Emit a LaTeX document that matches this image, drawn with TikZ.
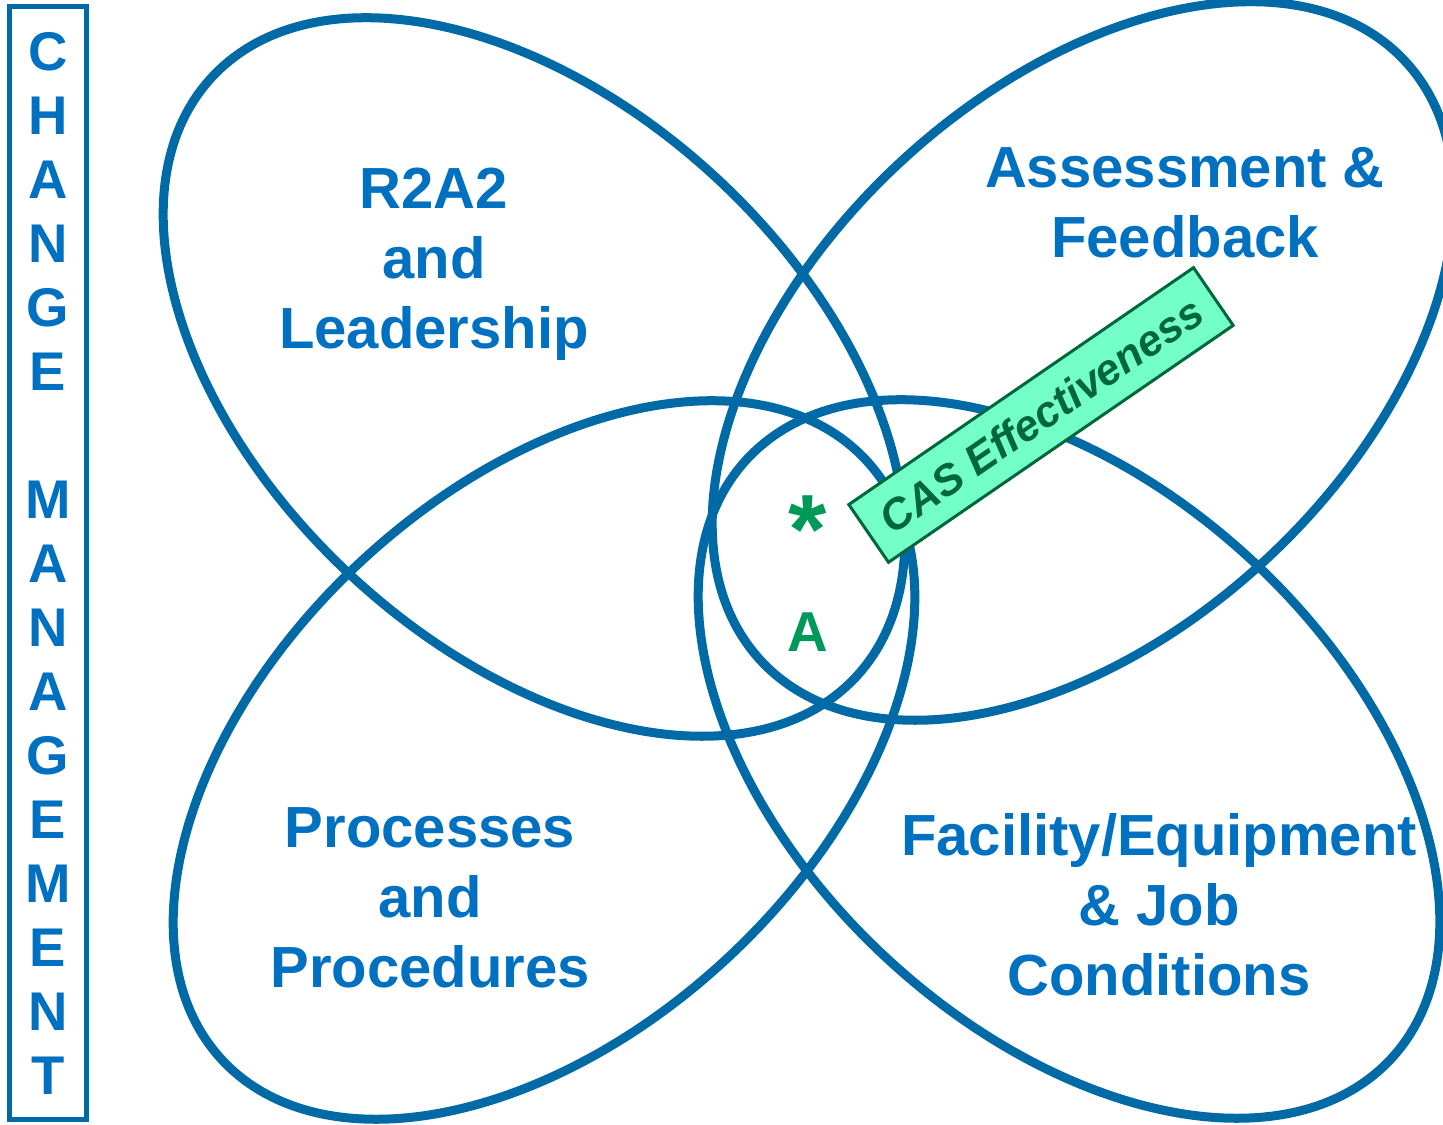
\documentclass[tikz,border=0pt]{standalone}
\usepackage{fontspec}
\setmainfont{Liberation Sans}
\definecolor{ringblue}{RGB}{0,106,166}
\definecolor{textblue}{RGB}{0,112,192}
\definecolor{casfill}{RGB}{117,255,200}
\definecolor{casgreen}{RGB}{0,102,60}
\definecolor{markgreen}{RGB}{0,153,90}

\begin{document}
\begin{tikzpicture}[x=0.01cm, y=0.01cm,
  ring/.style={draw=ringblue, line width=0.09cm},
  area/.style={text=textblue, align=center, inner sep=0pt,
    font=\fontsize{16.5}{19.9}\selectfont\bfseries},
  letter/.style={text=textblue, inner sep=0pt,
    font=\fontsize{15.5}{18}\selectfont\bfseries},
  casbox/.style={draw=casgreen, fill=casfill, line width=0.03cm,
    text=casgreen, minimum width=4.18cm, minimum height=0.7cm,
    font=\fontsize{12.3}{14}\selectfont\bfseries\itshape},
  greenmark/.style={text=markgreen, inner sep=0pt}]
\useasboundingbox (0,0) rectangle (1443,1125);
\clip (0,0) rectangle (1443,1125);

\draw[ring, rotate around={-43:(534,748)}] (534,748) ellipse [x radius=440, y radius=270];
\draw[ring, rotate around={43:(1083,764)}] (1083,764) ellipse [x radius=440, y radius=270];
\draw[ring, rotate around={43:(544,365)}] (544,365) ellipse [x radius=440, y radius=270];
\draw[ring, rotate around={-43:(1069,366)}] (1069,366) ellipse [x radius=440, y radius=270];

\node[area] (lead) at (434,861) {R2A2\\and\\Leadership};
\node[area] (assess) at (1185,922) {Assessment \&\\Feedback};
\node[area] (proc) at (430,227) {Processes\\and\\Procedures};
\node[area] (facil) at (1159,220) {Facility/Equipment\\\& Job\\Conditions};

\node[draw=ringblue, line width=0.05cm, minimum width=0.77cm, minimum height=11.12cm] (cmbox) at (48,562) {};
\foreach \ch/\row in {C/0,H/1,A/2,N/3,G/4,E/5,M/7,A/8,N/9,A/10,G/11,E/12,M/13,E/14,N/15,T/16}
  \node[letter] (cm\row) at (48,1073-64*\row) {\ch};

\node[greenmark, font=\fontsize{28}{30}\selectfont\bfseries] (star) at (808,595) {*};
\node[greenmark, font=\fontsize{16}{18}\selectfont\bfseries] (amark) at (808,493) {A};

\node[casbox, rotate=34.5] (cas) at (1041,710) {CAS Effectiveness};
\end{tikzpicture}
\end{document}
